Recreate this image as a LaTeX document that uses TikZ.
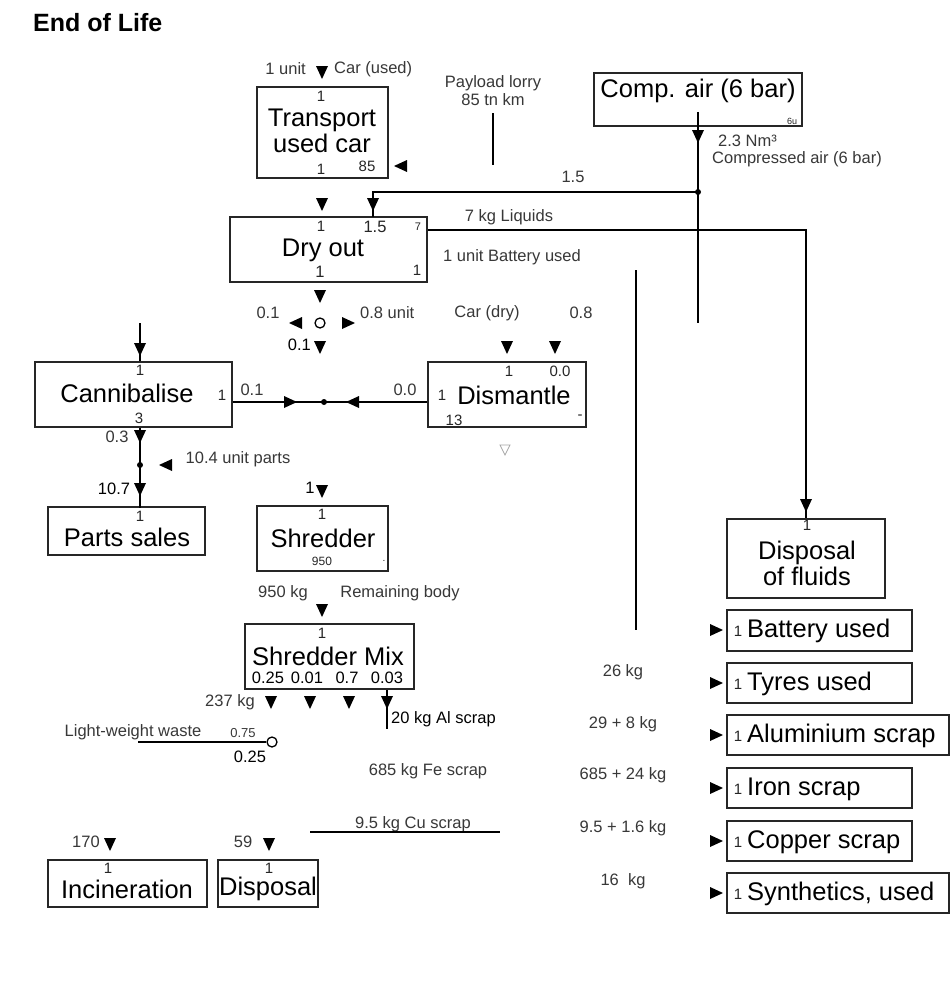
\documentclass[tikz,border=0pt]{standalone}
\usepackage{fontspec}
\setmainfont{Liberation Sans}
\usetikzlibrary{calc}

\newcommand\procfont{\fontsize{25.5}{26}\selectfont}
\newcommand\lblfont{\fontsize{16.5}{18}\selectfont}
\newcommand\numfont{\fontsize{15}{16}\selectfont}

\tikzset{
  procbox/.style={draw=black!85, line width=1.7pt, inner sep=0pt},
  proctext/.style={inner sep=0pt, font=\procfont, align=center, text=black},
  lbl/.style={inner sep=0pt, font=\lblfont, text=black!78},
  num/.style={inner sep=0pt, font=\numfont, text=black!85},
  flow/.style={line width=1.5pt, draw=black},
  junction/.style={circle, fill=black, inner sep=0pt, minimum size=6pt},
  splitter/.style={circle, draw=black, line width=1.3pt, fill=white, inner sep=0pt, minimum size=10pt},
  tdown/.pic={\fill (-6,-7) -- (6,-7) -- (0,6) -- cycle;},
  tleft/.pic={\fill (7,-6) -- (7,6) -- (-6,0) -- cycle;},
  tright/.pic={\fill (-7,-6) -- (-7,6) -- (6,0) -- cycle;},
  topen/.pic={\draw[black!35, line width=0.8pt] (-5,-5) -- (5,-5) -- (0,5) -- cycle;},
}

\begin{document}
\begin{tikzpicture}[x=1pt, y=-1pt]
\fill[white] (0,0) rectangle (950,985);
\useasboundingbox (0,0) rectangle (950,985);

% heading
\node[anchor=base west, inner sep=0pt, font=\bfseries\fontsize{25}{27}\selectfont] (title) at (33,31) {End of Life};

% ---------- process boxes ----------
\node[procbox, minimum width=131pt, minimum height=91pt] (trans) at (322.5,132.5) {};
\node[proctext] (transT) at (322,131) {Transport\\used car};

\node[procbox, minimum width=208pt, minimum height=53pt] (comp) at (698,99.5) {};
\node[proctext] (compT) at (698,91) {Comp. air (6 bar)};

\node[procbox, minimum width=197pt, minimum height=65pt] (dry) at (328.5,249.5) {};
\node[proctext] (dryT) at (323,250) {Dry out};

\node[procbox, minimum width=197pt, minimum height=65pt] (cann) at (133.5,394.5) {};
\node[proctext] (cannT) at (127,393) {Cannibalise};

\node[procbox, minimum width=158pt, minimum height=65pt] (dism) at (507,394.5) {};
\node[proctext] (dismT) at (514,395) {Dismantle};

\node[procbox, minimum width=157pt, minimum height=48pt] (parts) at (126.5,531) {};
\node[proctext] (partsT) at (127,537) {Parts sales};

\node[procbox, minimum width=131pt, minimum height=65pt] (shred) at (322.5,538.5) {};
\node[proctext] (shredT) at (323,538) {Shredder};

\node[procbox, minimum width=169pt, minimum height=65pt] (mix) at (329.5,656.5) {};
\node[proctext] (mixT) at (328,656) {Shredder Mix};

\node[procbox, minimum width=159pt, minimum height=47pt] (incin) at (127.5,883.5) {};
\node[proctext] (incinT) at (127,889) {Incineration};

\node[procbox, minimum width=100pt, minimum height=47pt] (disp) at (268,883.5) {};
\node[proctext] (dispT) at (268,889) {Disposal};

\node[procbox, minimum width=158pt, minimum height=79pt] (fluids) at (806,558.5) {};
\node[proctext] (fluidsT) at (807,563) {Disposal\\of fluids};

% output boxes on the right
\node[procbox, minimum width=185pt, minimum height=41pt] (batt) at (819.5,630.5) {};
\node[procbox, minimum width=185pt, minimum height=40pt] (tyre) at (819.5,683) {};
\node[procbox, minimum width=222pt, minimum height=40pt] (alu) at (838,735) {};
\node[procbox, minimum width=185pt, minimum height=40pt] (iron) at (819.5,788) {};
\node[procbox, minimum width=185pt, minimum height=40pt] (copper) at (819.5,841) {};
\node[procbox, minimum width=222pt, minimum height=40pt] (synth) at (838,893) {};

\foreach \nm/\txt/\yy in {batt/Battery used/630,
                          tyre/Tyres used/683,
                          alu/Aluminium scrap/735,
                          iron/Iron scrap/788,
                          copper/Copper scrap/841,
                          synth/{Synthetics, used}/893}{
  \pic at (717,\yy) {tright};
  \node[num] (\nm-in) at (738,\yy+1) {1};
  \node[proctext, anchor=west] (\nm-T) at (747,\yy+1) {\txt};
}
\node[lbl] (qTyre) at (623,672) {26 kg};
\node[lbl] (qAlu) at (623,724) {29 + 8 kg};
\node[lbl] (qIron) at (623,775) {685 + 24 kg};
\node[lbl] (qCu) at (623,828) {9.5 + 1.6 kg};
\node[lbl] (qSyn) at (623,881) {16\ \ kg};

% ---------- transport ----------
\pic at (322,73) {tdown};
\node[lbl, anchor=east] (carUnit) at (306,69) {1 unit};
\node[lbl, anchor=west] (carUsed) at (334,69) {Car (used)};
\node[num] (transIn) at (321,96) {1};
\node[num] (transOut) at (321,169) {1};
\node[num] (transLorry) at (367,166) {85};
\pic at (400,166) {tleft};
\node[lbl, align=center] (payload) at (493,91) {Payload lorry\\85 tn km};
\coordinate (lorryA) at (493,113);
\coordinate (lorryB) at (493,165);
\draw[flow] (lorryA) -- (lorryB);

% ---------- compressed air ----------
\node[num, font=\fontsize{9}{10}\selectfont] (compMark) at (792,121) {6u};
\coordinate (airEnd) at (698,323);
\coordinate (airJ) at (698,192);
\coordinate (dryAir) at (373,217);
\draw[flow] ([yshift=15pt]comp.south) -- (airEnd);
\pic at (698,137) {tdown};
\node[lbl, anchor=west] (airQty) at (718,141) {2.3 Nm³};
\node[lbl, anchor=west] (airName) at (712,159) {Compressed air (6 bar)};
\draw[flow] (airJ) -| (dryAir);
\node[junction] (airDot) at (airJ) {};
\pic at (373,205) {tdown};
\node[lbl] (airShare) at (573,177) {1.5};

% ---------- dry out ----------
\pic at (322,205) {tdown};
\node[num] (dryIn1) at (321,226.5) {1};
\node[num, font=\lblfont] (dryIn2) at (375,226.5) {1.5};
\node[num, font=\fontsize{11}{12}\selectfont] (dryLiq) at (418,227) {7};
\node[num, font=\lblfont] (dryOut) at (320,272) {1};
\node[num] (dryBatt) at (417,270) {1};
\draw[flow] ([yshift=-14pt]dry.north east) -| (fluids.north);
\pic at (806,506) {tdown};
\node[num] (fluidsIn) at (807,525) {1};
\node[lbl] (liqLbl) at (509,217) {7 kg Liquids};
\node[lbl] (battLbl) at (512,257) {1 unit Battery used};
\coordinate (battA) at (636,270);
\coordinate (battB) at (636,630);
\draw[flow] (battA) -- (battB);

% split below dry out
\pic at (320,297) {tdown};
\node[splitter] (split1) at (320,323) {};
\pic at (295,323) {tleft};
\pic at (349,323) {tright};
\node[lbl] (splitL) at (268,313) {0.1};
\node[lbl, anchor=west] (splitR) at (360,313) {0.8 unit};
\node[lbl, anchor=east, text=black] (splitD) at (311,345) {0.1};
\pic at (320,348) {tdown};

% ---------- dismantle ----------
\node[lbl] (carDry) at (487,313) {Car (dry)};
\node[lbl] (dismShare) at (581,313) {0.8};
\pic at (507,348) {tdown};
\pic at (555,348) {tdown};
\node[num] (dismIn1) at (509,371) {1};
\node[num] (dismIn2) at (560,371) {0.0};
\node[num] (dismL) at (442,395) {1};
\node[num] (dismB) at (454,420) {13};
\node[num] (dismR) at (580,417) {-};
\pic at (505,450) {topen};

% ---------- cannibalise ----------
\coordinate (cannSrc) at (140,323);
\draw[flow] (cannSrc) -- (cannSrc |- cann.north);
\pic at (140,350) {tdown};
\node[num] (cannIn) at (140,370) {1};
\node[num] (cannOut) at (139,418) {3};
\node[num] (cannR) at (222,395) {1};
\draw[flow] ([yshift=-7.5pt]cann.east) -- ([yshift=-7.5pt]dism.west);
\pic at (291,402) {tright};
\node[junction] (partsDot) at (324,402) {};
\pic at (352,402) {tleft};
\node[lbl] (cannShare) at (252,390) {0.1};
\node[lbl] (dismShare2) at (405,390) {0.0};

\draw[flow] ([xshift=6.5pt]cann.south) -- ++(0,80);
\pic at (140,437) {tdown};
\node[junction] (salesDot) at (140,465) {};
\pic at (165,465) {tleft};
\pic at (140,490) {tdown};
\node[lbl] (salesA) at (117,437) {0.3};
\node[lbl] (salesB) at (238,459) {10.4 unit parts};
\node[lbl, text=black] (salesC) at (114,489) {10.7};
\node[num] (partsIn) at (140,516) {1};

% ---------- shredder ----------
\node[lbl, text=black] (shredQty) at (310,488) {1};
\pic at (322,492) {tdown};
\node[num] (shredIn) at (322,514) {1};
\node[num, font=\fontsize{12}{13}\selectfont] (shredOut) at (322,561) {950};
\node[num, font=\fontsize{10}{11}\selectfont] (shredDot) at (384,561) {.};

\node[lbl] (bodyQty) at (283,593) {950 kg};
\node[lbl] (bodyName) at (400,593) {Remaining body};
\pic at (322,611) {tdown};
\node[num] (mixIn) at (322,633) {1};
\node[num, font=\lblfont, text=black] (mixA) at (268,678) {0.25};
\node[num, font=\lblfont, text=black] (mixB) at (307,678) {0.01};
\node[num, font=\lblfont, text=black] (mixC) at (347,678) {0.7};
\node[num, font=\lblfont, text=black] (mixD) at (387,678) {0.03};
\pic at (271,703) {tdown};
\pic at (310,703) {tdown};
\pic at (349,703) {tdown};
\draw[flow] ([xshift=57.5pt]mix.south) -- ++(0,39);
\pic at (387,703) {tdown};
\node[lbl] (lwQty) at (230,702) {237 kg};
\node[lbl, anchor=west, text=black] (alScrap) at (391,719) {20 kg Al scrap};

\node[splitter] (lwSplit) at (272,742) {};
\coordinate (lwStart) at (138,742);
\draw[flow] (lwStart) -- (lwSplit.west);
\node[lbl] (lwName) at (133,732) {Light-weight waste};
\node[lbl, font=\fontsize{13}{14}\selectfont] (lwA) at (243,733) {0.75};
\node[lbl, text=black] (lwB) at (250,757) {0.25};

\node[lbl] (feScrap) at (428,771) {685 kg Fe scrap};
\node[lbl] (cuScrap) at (413,824) {9.5 kg Cu scrap};
\coordinate (cuA) at (310,832);
\coordinate (cuB) at (500,832);
\draw[flow] (cuA) -- (cuB);

% ---------- final sinks ----------
\node[lbl] (incQty) at (86,842) {170};
\pic at (110,845) {tdown};
\node[num] (incIn) at (108,868) {1};
\node[lbl] (dispQty) at (243,842) {59};
\pic at (269,845) {tdown};
\node[num] (dispIn) at (269,868) {1};
\end{tikzpicture}
\end{document}
